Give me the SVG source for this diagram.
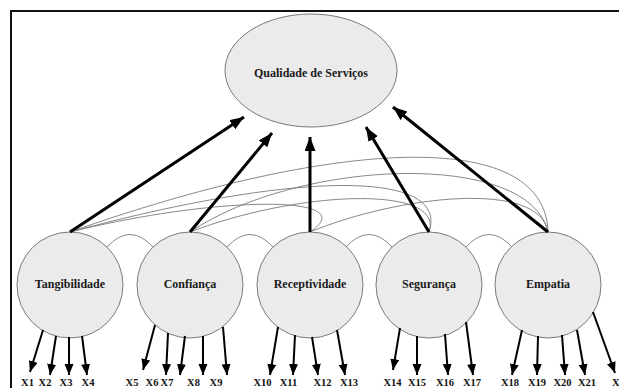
<svg xmlns="http://www.w3.org/2000/svg" width="619" height="388" viewBox="0 0 619 388">
<style>
.lbl{font-family:"Liberation Serif","Times New Roman",serif;font-weight:bold;font-size:12px;fill:#1a1a1a;text-anchor:middle}
.xl{font-family:"Liberation Serif","Times New Roman",serif;font-weight:bold;font-size:10.5px;fill:#111;text-anchor:middle}
.node{fill:#ebebeb;stroke:#7a7a7a;stroke-width:1}
.cor{fill:none;stroke:#7a7a7a;stroke-width:0.9}
.path{stroke:#000;stroke-width:3;fill:none;marker-end:url(#ah)}
.ind{stroke:#000;stroke-width:2;fill:none;marker-end:url(#ah2)}
</style>
<defs>
<marker id="ah" markerUnits="userSpaceOnUse" markerWidth="15" markerHeight="12" refX="14" refY="5.5" orient="auto">
<path d="M0,0 L14,5.5 L0,11 z" fill="#000"/>
</marker>
<marker id="ah2" markerUnits="userSpaceOnUse" markerWidth="12" markerHeight="10" refX="11" refY="4.5" orient="auto">
<path d="M0,0 L11,4.5 L0,9 z" fill="#000"/>
</marker>
</defs>
<rect x="0" y="0" width="619" height="388" fill="#fff"/>
<rect x="11" y="11" width="700" height="500" fill="none" stroke="#111" stroke-width="2"/>

<g id="qualidade">
<ellipse class="node" cx="311" cy="70.5" rx="86" ry="56.5"/>
<text class="lbl" x="311" y="77">Qualidade de Serviços</text>
</g>
<g id="tangibilidade">
<circle class="node" cx="70" cy="285" r="53"/>
<text class="lbl" x="70" y="288">Tangibilidade</text>
</g>
<g id="confianca">
<circle class="node" cx="190" cy="285" r="53"/>
<text class="lbl" x="190" y="288">Confiança</text>
</g>
<g id="receptividade">
<circle class="node" cx="310" cy="285" r="53"/>
<text class="lbl" x="310" y="288">Receptividade</text>
</g>
<g id="seguranca">
<circle class="node" cx="429" cy="285" r="53"/>
<text class="lbl" x="429" y="288">Segurança</text>
</g>
<g id="empatia">
<circle class="node" cx="548" cy="285" r="53"/>
<text class="lbl" x="548" y="288">Empatia</text>
</g>

<g id="indicadores">
<text class="xl" x="27.5" y="386">X1</text>
<text class="xl" x="45" y="386">X2</text>
<text class="xl" x="66" y="386">X3</text>
<text class="xl" x="88" y="386">X4</text>
<text class="xl" x="132" y="386">X5</text>
<text class="xl" x="152" y="386">X6</text>
<text class="xl" x="167" y="386">X7</text>
<text class="xl" x="193.5" y="386">X8</text>
<text class="xl" x="216" y="386">X9</text>
<text class="xl" x="262.5" y="386">X10</text>
<text class="xl" x="288.5" y="386">X11</text>
<text class="xl" x="322.5" y="386">X12</text>
<text class="xl" x="349" y="386">X13</text>
<text class="xl" x="392.5" y="386">X14</text>
<text class="xl" x="417" y="386">X15</text>
<text class="xl" x="445" y="386">X16</text>
<text class="xl" x="472" y="386">X17</text>
<text class="xl" x="510" y="386">X18</text>
<text class="xl" x="537" y="386">X19</text>
<text class="xl" x="562.5" y="386">X20</text>
<text class="xl" x="587" y="386">X21</text>
<text class="xl" x="612" y="386" style="text-anchor:start">X22</text>
</g>

<g id="connectors">
<path class="cor" d="M107,247 Q130,222 153,247"/>
<path class="cor" d="M227,247 Q250,222 273,247"/>
<path class="cor" d="M346,247 Q369,222 392,247"/>
<path class="cor" d="M466,247 Q489,222 512,247"/>
<path class="cor" d="M70,232 C330,140 545,125 548,232"/>
<path class="cor" d="M70,232 C300,170 450,170 429,232"/>
<path class="cor" d="M70,232 C220,195 365,195 310,232"/>
<path class="cor" d="M190,232 C300,158 530,150 548,232"/>
<path class="cor" d="M190,232 C300,190 445,185 429,232"/>
<path class="cor" d="M310,232 C400,195 540,180 548,232"/>

<line class="path" x1="70" y1="232" x2="244" y2="117"/>
<line class="path" x1="190" y1="232" x2="272" y2="133"/>
<line class="path" x1="310" y1="232" x2="310" y2="137"/>
<line class="path" x1="429" y1="232" x2="366" y2="127"/>
<line class="path" x1="548" y1="232" x2="393" y2="107"/>

<line class="ind" x1="43" y1="330" x2="30" y2="372"/>
<line class="ind" x1="56" y1="336" x2="50" y2="375"/>
<line class="ind" x1="69" y1="337" x2="69" y2="375"/>
<line class="ind" x1="82" y1="336" x2="87" y2="375"/>
<line class="ind" x1="155" y1="325" x2="143" y2="370"/>
<line class="ind" x1="168" y1="333" x2="166" y2="375"/>
<line class="ind" x1="185" y1="336" x2="180" y2="375"/>
<line class="ind" x1="203" y1="336" x2="203" y2="375"/>
<line class="ind" x1="223" y1="327" x2="227" y2="375"/>
<line class="ind" x1="278" y1="327" x2="270" y2="375"/>
<line class="ind" x1="295" y1="335" x2="293" y2="375"/>
<line class="ind" x1="312" y1="337" x2="318" y2="375"/>
<line class="ind" x1="337" y1="330" x2="345" y2="375"/>
<line class="ind" x1="400" y1="328" x2="393" y2="370"/>
<line class="ind" x1="417" y1="336" x2="417" y2="375"/>
<line class="ind" x1="445" y1="334" x2="448" y2="375"/>
<line class="ind" x1="466" y1="322" x2="473" y2="375"/>
<line class="ind" x1="522" y1="330" x2="512" y2="375"/>
<line class="ind" x1="538" y1="336" x2="537" y2="375"/>
<line class="ind" x1="562" y1="335" x2="565" y2="375"/>
<line class="ind" x1="577" y1="330" x2="585" y2="375"/>
<line class="ind" x1="593" y1="312" x2="615" y2="373"/>
</g>
</svg>
